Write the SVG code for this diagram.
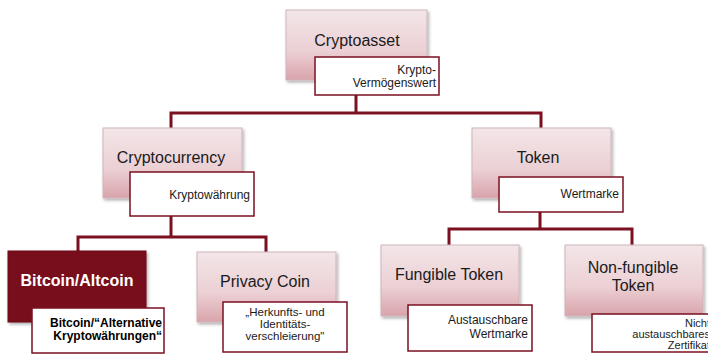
<svg xmlns="http://www.w3.org/2000/svg" width="708" height="354" viewBox="0 0 708 354">
<defs>
<linearGradient id="pink" x1="0" y1="0" x2="0" y2="1">
<stop offset="0" stop-color="#f3e6e8"/>
<stop offset="0.6" stop-color="#ebcfd3"/>
<stop offset="1" stop-color="#d9a3ab"/>
</linearGradient>
<filter id="sh" x="-10%" y="-10%" width="125%" height="130%">
<feDropShadow dx="1.5" dy="2" stdDeviation="1.5" flood-color="#000" flood-opacity="0.3"/>
</filter>
<style>
.box{fill:url(#pink);stroke:#cdb5b9;stroke-width:1;filter:url(#sh)}
.dark{fill:#780d1c;stroke:#6a0a17;stroke-width:1;filter:url(#sh)}
.lab{fill:#fff;stroke:#7b1020;stroke-width:1.5}
.t{font-family:"Liberation Sans",Arial,sans-serif;font-size:16px;fill:#1a1a1a;text-anchor:middle}
.l{font-family:"Liberation Sans",Arial,sans-serif;font-size:12px;fill:#1a1a1a;text-anchor:end}
.lc{font-family:"Liberation Sans",Arial,sans-serif;font-size:11.5px;fill:#1a1a1a;text-anchor:middle}
.s{font-size:11px}
.con{fill:none;stroke:#7b1020;stroke-width:3}
</style>
</defs>
<g id="connectors">
<path class="con" d="M356 95 V113 M171 128 V113 H541 V128"/>
<path class="con" d="M171 216 V237 M78 251 V237 H266 V252"/>
<path class="con" d="M540 212 V229 M449 245 V229 H632 V245"/>
</g>
<g id="cryptoasset">
<rect class="box" x="286" y="10" width="141" height="70"/>
<text class="t" x="357" y="46">Cryptoasset</text>
<rect class="lab" x="315" y="57" width="124" height="38"/>
<text class="l" x="436" y="74">Krypto-</text>
<text class="l" x="436" y="87">Vermögenswert</text>
</g>
<g id="cryptocurrency">
<rect class="box" x="103" y="128" width="139" height="70"/>
<text class="t" x="171" y="163">Cryptocurrency</text>
<rect class="lab" x="130" y="172" width="124" height="44"/>
<text class="l" x="250" y="199">Kryptowährung</text>
</g>
<g id="token">
<rect class="box" x="472" y="128" width="139" height="70"/>
<text class="t" x="538" y="163">Token</text>
<rect class="lab" x="499" y="177" width="124" height="35"/>
<text class="l" x="619" y="198">Wertmarke</text>
</g>
<g id="bitcoin">
<rect class="dark" x="8" y="251" width="138" height="71"/>
<text class="t" x="77" y="286" style="fill:#fff;font-weight:bold">Bitcoin/Altcoin</text>
<rect class="lab" x="32" y="308" width="132" height="45"/>
<text class="l" x="162" y="327" style="font-weight:bold;fill:#000">Bitcoin/“Alternative</text>
<text class="l" x="162" y="340" style="font-weight:bold;fill:#000">Kryptowährungen“</text>
</g>
<g id="privacy">
<rect class="box" x="197" y="252" width="139" height="70"/>
<text class="t" x="265" y="287">Privacy Coin</text>
<rect class="lab" x="223" y="302" width="124" height="50"/>
<text class="lc" x="285" y="316">„Herkunfts- und</text>
<text class="lc" x="285" y="328">Identitäts-</text>
<text class="lc" x="285" y="340">verschleierung"</text>
</g>
<g id="fungible">
<rect class="box" x="381" y="245" width="138" height="71"/>
<text class="t" x="449" y="280">Fungible Token</text>
<rect class="lab" x="408" y="305" width="124" height="46"/>
<text class="l" x="528" y="324">Austauschbare</text>
<text class="l" x="528" y="338">Wertmarke</text>
</g>
<g id="nonfungible">
<rect class="box" x="565" y="245" width="138" height="71"/>
<text class="t" x="633" y="273">Non-fungible</text>
<text class="t" x="633" y="291">Token</text>
<rect class="lab" x="592" y="314" width="124" height="38"/>
<text class="l s" x="710" y="327">Nicht</text>
<text class="l s" x="710" y="338">austauschbares</text>
<text class="l s" x="710" y="349">Zertifikat</text>
</g>
</svg>
